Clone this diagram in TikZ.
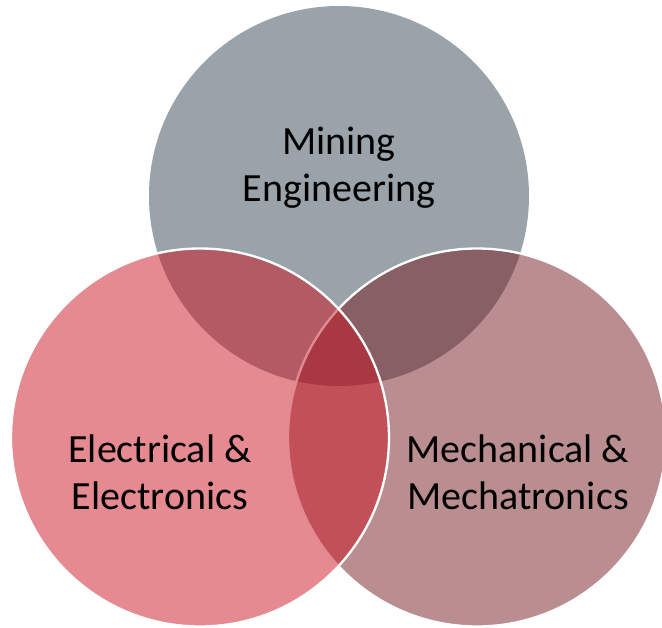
\documentclass[tikz,border=0pt]{standalone}
\usepackage{fontspec}
\setmainfont{Carlito}
\usepackage{tikz}

\definecolor{mining}{RGB}{155,163,170}
\definecolor{electric}{RGB}{201,21,33}
\definecolor{mechanic}{RGB}{117,29,33}

\begin{document}
\begin{tikzpicture}[x=0.75pt,y=-0.75pt]
          \tikzstyle{field} = [circle, inner sep=0pt, outer sep=0pt, minimum size=283.5pt, fill opacity=0.5, draw=white, line width=1.75pt]
          \tikzstyle{fieldname} = [align=center, font=\fontsize{30}{35.5}\selectfont, text=black]
        \useasboundingbox (0,0) rectangle (662,628);
        \node[field, fill=mining, fill opacity=1, draw=none, minimum size=285pt] (1) at (339,196) {};
        \node[field, fill=mechanic] (3) at (477,437.5) {};
        \node[field, fill=electric] (2) at (200,437.5) {};
        \node[fieldname] (mining) at (339,168) {Mining\\Engineering};
        \node[fieldname] (electrical) at (160,472) {Electrical \&\\Electronics};
        \node[fieldname] (mechanical) at (518,472) {Mechanical \&\\Mechatronics};
      \end{tikzpicture}
\end{document}
